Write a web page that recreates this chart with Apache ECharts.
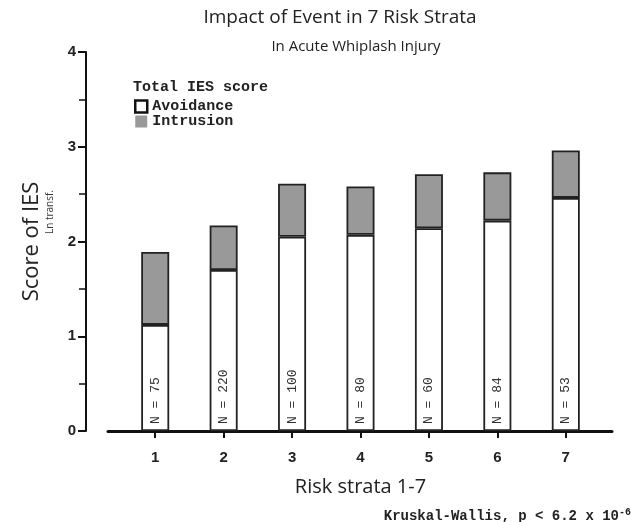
<!DOCTYPE html>
<html>
<head>
<meta charset="utf-8">
<script src="https://cdn.jsdelivr.net/npm/echarts@6/dist/echarts.min.js"></script>
<style>
  html, body { margin: 0; padding: 0; background: #fff; }
  #chart { width: 636px; height: 522px; }
</style>
</head>
<body>
<div id="chart"></div>
<script>
// risk strata and stacked scores (Ln transformed)
var strata = ['1', '2', '3', '4', '5', '6', '7'];
var avoidance = [1.12, 1.70, 2.05, 2.07, 2.14, 2.22, 2.46];
var intrusion = [0.77, 0.47, 0.56, 0.51, 0.57, 0.51, 0.50];
var sampleN = [75, 220, 100, 80, 60, 84, 53];

var mono = 'Liberation Mono';
var sans = 'Open Sans';

var chart = echarts.init(document.getElementById('chart'));

chart.setOption({
  animation: false,
  backgroundColor: '#fff',
  title: [
    {
      text: 'Impact of Event in 7 Risk Strata',
      left: 335, top: 3, textAlign: 'center',
      textStyle: { fontFamily: sans, fontSize: 19, fontWeight: 'normal', color: '#222' }
    },
    {
      text: 'In Acute Whiplash Injury',
      left: 351, top: 34, textAlign: 'center',
      textStyle: { fontFamily: sans, fontSize: 15, fontWeight: 'normal', color: '#222' }
    },
    {
      text: 'Total IES score',
      left: 128, top: 75,
      textStyle: { fontFamily: mono, fontSize: 15, fontWeight: 'bold', color: '#222' }
    },
    {
      text: '{a|Kruskal-Wallis, p < 6.2 x 10}{s|-6}',
      right: 0, top: 502,
      textStyle: {
        rich: {
          a: { fontFamily: mono, fontSize: 14, fontWeight: 'bold', color: '#222' },
          s: { fontFamily: mono, fontSize: 10, fontWeight: 'bold', color: '#222', verticalAlign: 'top', padding: [0, 0, 9, 0] }
        }
      }
    }
  ],
  legend: {
    orient: 'vertical',
    left: 129, top: 93,
    itemWidth: 12, itemHeight: 12, itemGap: -2,
    icon: 'rect',
    textStyle: { fontFamily: mono, fontSize: 15, fontWeight: 'bold', color: '#222', lineHeight: 17 },
    data: [
      { name: 'Avoidance', itemStyle: { color: '#fff', borderColor: '#111', borderWidth: 2.5 } },
      { name: 'Intrusion', itemStyle: { color: '#999', borderColor: '#999', borderWidth: 0 } }
    ]
  },
  graphic: [
    {
      type: 'text',
      left: 45, top: 190,
      rotation: Math.PI / 2,
      style: { text: 'Ln transf.', fontFamily: sans, fontSize: 10, fill: '#333' }
    }
  ],
  grid: [
    // bars
    { left: 121, right: 36, top: 52, bottom: 91 },
    // long x-axis baseline
    { left: 108, right: 24, top: 52, bottom: 91 }
  ],
  xAxis: [
    {
      type: 'category',
      gridIndex: 0,
      data: strata,
      name: 'Risk strata 1-7',
      nameLocation: 'middle',
      nameGap: 46,
      nameTextStyle: { fontFamily: sans, fontSize: 20, color: '#222' },
      axisLine: { show: false },
      axisTick: { show: true, alignWithLabel: true, length: 7, lineStyle: { color: '#111', width: 2 } },
      axisLabel: {
        margin: 19,
        fontFamily: 'Liberation Sans', fontSize: 15, fontWeight: 'bold', color: '#222'
      },
      splitLine: { show: false }
    },
    {
      type: 'value',
      gridIndex: 1,
      min: 0, max: 1,
      axisLine: { show: true, onZero: false, lineStyle: { color: '#111', width: 3 } },
      axisTick: { show: false },
      axisLabel: { show: false },
      splitLine: { show: false }
    }
  ],
  yAxis: [
    {
      type: 'value',
      gridIndex: 0,
      min: 0, max: 4, interval: 1,
      offset: 35,
      name: 'Score of IES',
      nameLocation: 'middle',
      nameGap: 43,
      nameRotate: 90,
      nameTextStyle: { fontFamily: sans, fontSize: 22, color: '#222' },
      axisLine: { show: true, lineStyle: { color: '#111', width: 2 } },
      axisTick: { show: true, length: 8, lineStyle: { color: '#111', width: 2 } },
      minorTick: { show: true, splitNumber: 2, length: 7, lineStyle: { color: '#111', width: 1.5 } },
      axisLabel: {
        margin: 10,
        fontFamily: 'Liberation Sans', fontSize: 15, fontWeight: 'bold', color: '#222'
      },
      splitLine: { show: false }
    },
    {
      type: 'value',
      gridIndex: 1,
      min: 0, max: 1,
      show: false
    }
  ],
  series: [
    {
      name: 'Avoidance',
      type: 'bar',
      stack: 'ies',
      barWidth: 28,
      data: avoidance,
      itemStyle: { color: '#fff', borderColor: '#222', borderWidth: 1.8 },
      label: {
        show: true,
        position: 'insideBottom',
        distance: 7,
        rotate: 90,
        align: 'left',
        verticalAlign: 'middle',
        fontFamily: mono, fontSize: 13, color: '#333',
        formatter: function (p) { return 'N = ' + sampleN[p.dataIndex]; }
      }
    },
    {
      name: 'Intrusion',
      type: 'bar',
      stack: 'ies',
      barWidth: 28,
      data: intrusion,
      itemStyle: { color: '#999', borderColor: '#222', borderWidth: 1.8 }
    }
  ]
});
</script>
</body>
</html>
